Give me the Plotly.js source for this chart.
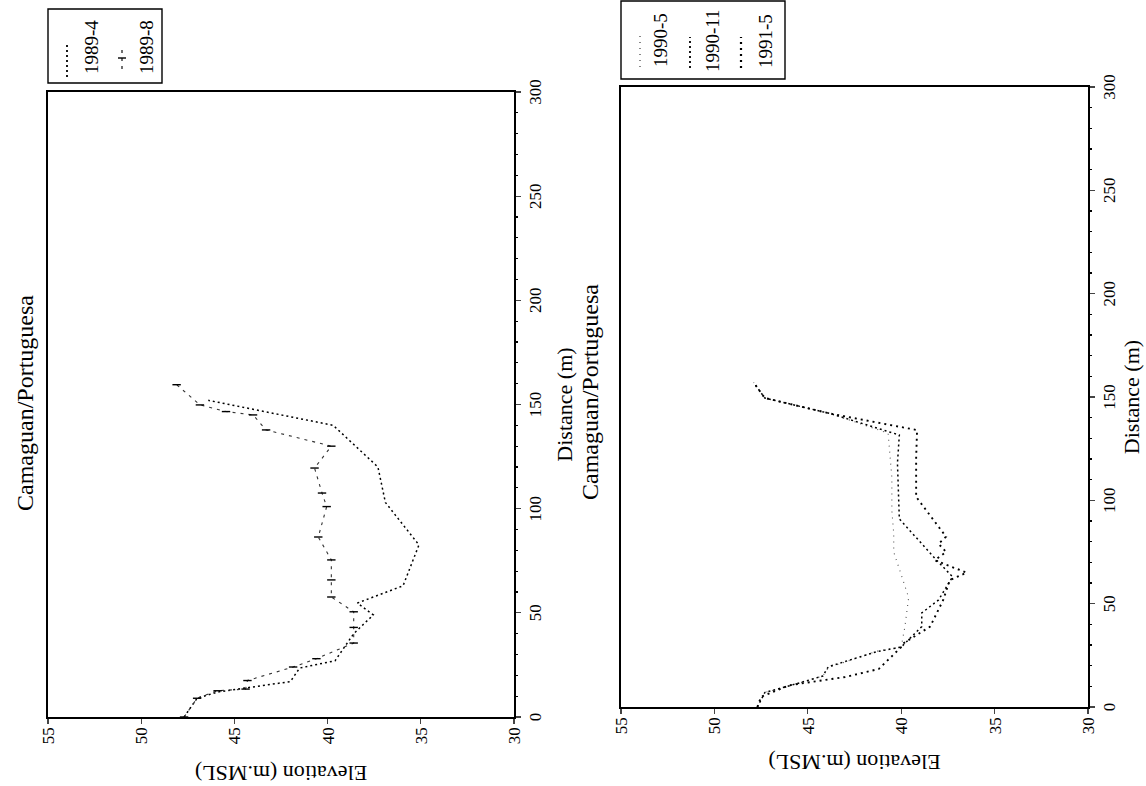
<!DOCTYPE html>
<html>
<head>
<meta charset="utf-8">
<script src="https://cdn.plot.ly/plotly-3.0.1.min.js"></script>
<style>
html,body{margin:0;padding:0;overflow:hidden;background:#fff;width:1146px;height:786px;}
#wrap{position:absolute;left:0;top:0;width:786px;height:1146px;transform-origin:0 0;transform:translate(0,786px) rotate(-90deg);}
#chart{width:786px;height:1146px;}
</style>
</head>
<body>
<div id="wrap"><div id="chart"></div></div>
<script>
// ---- data (distance m, elevation m.MSL) ----
const chartTitle = 'Camaguan/Portuguesa';
const xTitle = 'Distance (m)';
const yTitle = 'Elevation (m.MSL)';
const distTicks = [0, 50, 100, 150, 200, 250, 300];
const elevTicks = [30, 35, 40, 45, 50, 55];

const seriesTop = ['1989-4', '1989-8'];
const dist89_4 = [0, 9, 12, 14, 17, 23.5, 27, 40, 49, 54.7, 63, 82.6, 103, 120, 140, 152];
const elev89_4 = [47.7, 47.0, 45.9, 44.3, 42.0, 41.5, 39.6, 38.6, 37.55, 38.4, 35.95, 35.1, 36.9, 37.3, 39.7, 46.4];
const dist89_8 = [0, 9, 12.6, 13.4, 17.5, 24, 28, 35.5, 43, 50.5, 57.6, 65.8, 75.4, 86.4, 101, 107.5, 119.5, 130, 137.8, 145, 146.6, 149.8, 159.5];
const elev89_8 = [47.7, 47.0, 45.9, 44.4, 44.3, 41.85, 40.6, 38.6, 38.6, 38.6, 39.8, 39.8, 39.8, 40.5, 40.05, 40.3, 40.7, 39.8, 43.3, 44.0, 45.45, 46.85, 48.1];

const seriesBottom = ['1990-5', '1990-11', '1991-5'];
const dist90_5 = [0, 7, 11.5, 13, 15, 19, 27, 29, 39, 53, 75, 84, 95, 111, 132.5, 142, 149.5, 152.5];
const elev90_5 = [47.7, 47.3, 45.5, 44.9, 44.2, 43.9, 41.3, 40.0, 39.8, 39.6, 40.4, 40.4, 40.5, 40.5, 40.7, 43.8, 47.3, 47.6];
const dist90_11 = [0, 7, 11.5, 13, 15, 19.5, 26.8, 29, 38.9, 45.5, 51.8, 63, 71, 91, 118, 131.6, 142, 149.5, 157];
const elev90_11 = [47.7, 47.3, 45.5, 44.9, 44.2, 43.9, 41.3, 40.0, 38.9, 38.9, 38.0, 37.25, 38.1, 40.1, 40.2, 40.1, 43.8, 47.3, 47.9];
const dist91_5 = [0, 5, 10.5, 12.5, 14.5, 18.4, 22.7, 29, 31, 38.9, 51.8, 61.4, 65, 71, 75, 79, 82.4, 101.7, 120.5, 134, 142, 149.5, 157];
const elev91_5 = [47.7, 47.5, 46.0, 44.6, 43.0, 41.2, 40.7, 40.0, 39.85, 38.45, 37.75, 37.4, 36.5, 38.2, 37.6, 38.0, 37.6, 39.2, 39.2, 39.15, 43.8, 47.3, 47.9];

// ---- styles ----
const W = 786, H = 1146;
const FONT = '"Liberation Serif", "DejaVu Serif", serif';
const st = {
  '1989-4': {line:{color:'#000', width:1.5, dash:'2px,3px'}},
  '1989-8': {line:{color:'#333', width:1.1, dash:'3px,5px'}, marker:{symbol:'line-ns-open', size:6, color:'#000', line:{width:1.4, color:'#000'}}},
  '1990-5': {line:{color:'#555', width:1.1, dash:'1px,5px'}},
  '1990-11': {line:{color:'#000', width:1.5, dash:'2px,3px'}},
  '1991-5': {line:{color:'#000', width:1.9, dash:'2px,4px'}}
};

function tr(name, d, e, xa, ya) {
  const s = st[name];
  const t = {type:'scatter', name:name, x:d, y:e, xaxis:xa, yaxis:ya, line:s.line, mode: s.marker ? 'lines+markers' : 'lines', showlegend:false};
  if (s.marker) t.marker = s.marker;
  return t;
}

const data = [
  tr(seriesTop[0], dist89_4, elev89_4, 'x', 'y'),
  tr(seriesTop[1], dist89_8, elev89_8, 'x', 'y'),
  tr(seriesBottom[0], dist90_5, elev90_5, 'x2', 'y2'),
  tr(seriesBottom[1], dist90_11, elev90_11, 'x2', 'y2'),
  tr(seriesBottom[2], dist91_5, elev91_5, 'x2', 'y2')
];

function xax(dom, anchor, standoff) {
  return {domain:dom, anchor:anchor, range:[0,300], tickvals:distTicks, ticks:'outside', ticklen:5, tickwidth:1.2,
    showline:true, mirror:true, linewidth:1.6, linecolor:'#000', showgrid:false, zeroline:false,
    tickfont:{size:17, family:FONT}, automargin:false,
    minor:{dtick:10, ticks:'outside', ticklen:2, tickcolor:'#000', showgrid:false},
    title:{text:xTitle, font:{size:22, family:FONT}, standoff:standoff}};
}
function yax(dom, anchor, standoff) {
  return {domain:dom, anchor:anchor, range:[30,55], tickvals:elevTicks, ticks:'outside', ticklen:5, tickwidth:1.2,
    showline:true, mirror:true, linewidth:1.8, linecolor:'#000', showgrid:false, zeroline:false,
    tickfont:{size:17, family:FONT}, automargin:false,
    title:{text:yTitle, font:{size:22, family:FONT}, standoff:standoff}};
}

const P = (u, v) => ({x:u / W, y:1 - v / H});

const shapes = [];
const annotations = [];
function legend(box, entries) {
  const a = P(box[0], box[2]), b = P(box[1], box[3]);
  shapes.push({type:'rect', xref:'paper', yref:'paper', x0:a.x, x1:b.x, y0:b.y, y1:a.y, line:{color:'#000', width:1.4}, fillcolor:'rgba(0,0,0,0)'});
  entries.forEach(en => {
    const s = st[en.name];
    const p0 = P(en.s0, en.sv), p1 = P(en.s1, en.sv);
    shapes.push({type:'line', xref:'paper', yref:'paper', x0:p0.x, x1:p1.x, y0:p0.y, y1:p1.y, line:{color:s.line.color, width:s.line.width + 0.3, dash:s.line.dash}});
    if (s.marker) {
      const m = (en.s0 + en.s1) / 2;
      const q0 = P(m, en.sv - 4), q1 = P(m, en.sv + 4);
      shapes.push({type:'line', xref:'paper', yref:'paper', x0:q0.x, x1:q1.x, y0:q0.y, y1:q1.y, line:{color:'#000', width:1.4}});
    }
    const tp = P(en.tu, en.tv);
    annotations.push({xref:'paper', yref:'paper', x:tp.x, y:tp.y, text:en.name, showarrow:false, xanchor:'center', yanchor:'middle', font:{size:19, family:FONT, color:'#000'}});
  });
}
legend([703, 777, 48, 162], [
  {name:seriesTop[0], s0:709, s1:743, sv:67, tu:739, tv:91},
  {name:seriesTop[1], s0:717, s1:739, sv:122, tu:739, tv:146}
]);
legend([707, 785, 621, 785], [
  {name:seriesBottom[0], s0:719, s1:753, sv:640, tu:746, tv:660},
  {name:seriesBottom[1], s0:718, s1:749, sv:690, tu:745, tv:712},
  {name:seriesBottom[2], s0:718, s1:749, sv:741, tu:745, tv:766}
]);

[[383, 25], [394, 590]].forEach(c => {
  const p = P(c[0], c[1]);
  annotations.push({xref:'paper', yref:'paper', x:p.x, y:p.y, text:chartTitle, showarrow:false, xanchor:'center', yanchor:'middle', font:{size:24, family:FONT, color:'#000'}});
});

const layout = {
  width:W, height:H, margin:{l:0, r:0, t:0, b:0}, paper_bgcolor:'#fff', plot_bgcolor:'#fff', showlegend:false,
  font:{family:FONT, color:'#000', size:17},
  xaxis: xax([69 / W, 694 / W], 'y', 12),
  yaxis: yax([1 - 514 / H, 1 - 48 / H], 'x', 15),
  xaxis2: xax([79 / W, 699 / W], 'y2', 5),
  yaxis2: yax([1 - 1088 / H, 1 - 621 / H], 'x2', 14),
  shapes: shapes, annotations: annotations
};

Plotly.newPlot('chart', data, layout, {staticPlot:true, displayModeBar:false});
</script>
</body>
</html>
